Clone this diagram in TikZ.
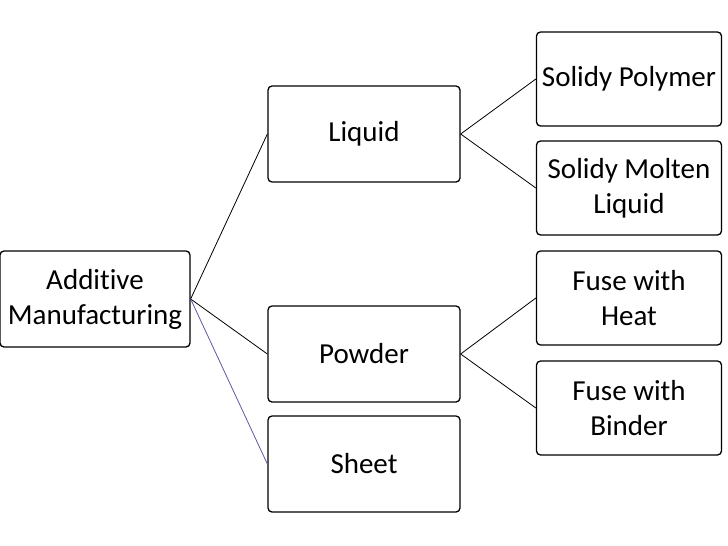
\documentclass[tikz,border=0pt]{standalone}
\usepackage{fontspec}
\setmainfont[Ligatures=NoCommon]{Carlito}
\begin{document}
\begin{tikzpicture}[x=1pt,y=-1pt,
  box/.style={draw,line width=1.3pt,rounded corners=4pt,align=center,font=\fontsize{29}{35}\selectfont,inner sep=0pt},
  link/.style={draw,line width=0.8pt}]
\useasboundingbox (0,0) rectangle (728,546);
% left column
\node[box,minimum width=190,minimum height=96] (am) at (95,299) {Additive\\Manufacturing};
% middle column
\node[box,minimum width=192,minimum height=96] (liquid) at (364,134) {Liquid};
\node[box,minimum width=192,minimum height=96] (powder) at (364,354) {Powder};
\node[box,minimum width=192,minimum height=96] (sheet) at (364,464) {Sheet};
% right column
\node[box,minimum width=185,minimum height=94] (poly) at (629,79) {Solidy Polymer};
\node[box,minimum width=185,minimum height=94] (molten) at (629,188) {Solidy Molten\\Liquid};
\node[box,minimum width=185,minimum height=94] (heat) at (629,298) {Fuse with\\Heat};
\node[box,minimum width=185,minimum height=94] (binder) at (629,408) {Fuse with\\Binder};
% connectors
\draw[link] (am.east) -- (liquid.west);
\draw[link] (am.east) -- (powder.west);
\draw[link,color=blue!30!gray] (am.east) -- (sheet.west);
\draw[link] (liquid.east) -- (poly.west);
\draw[link] (liquid.east) -- (molten.west);
\draw[link] (powder.east) -- (heat.west);
\draw[link] (powder.east) -- (binder.west);
\end{tikzpicture}
\end{document}
